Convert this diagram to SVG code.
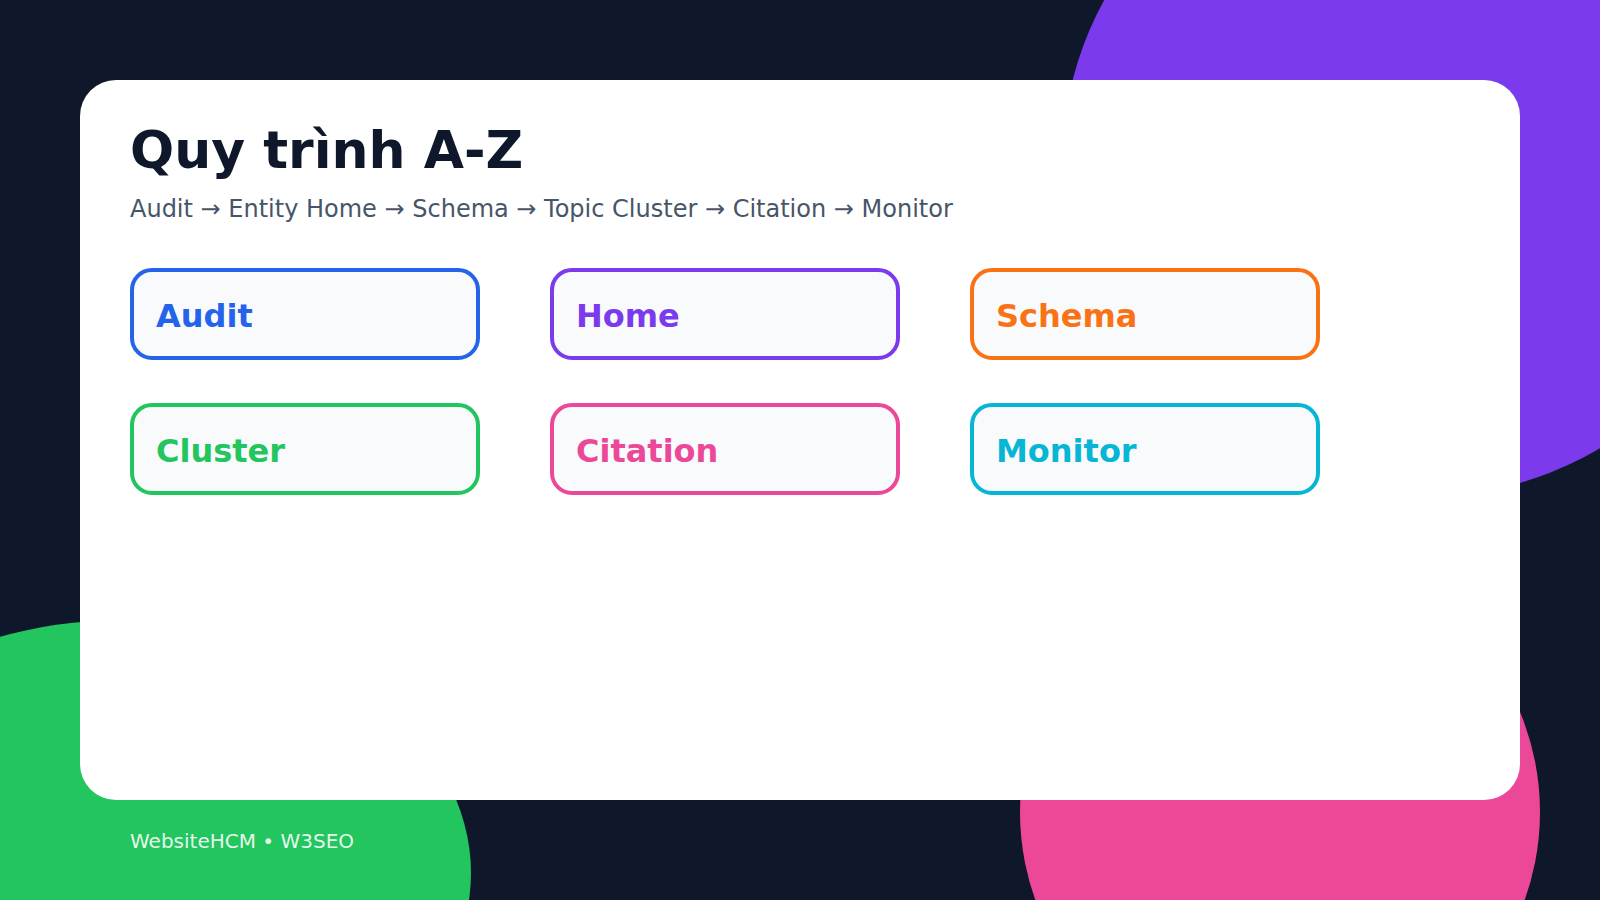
<svg xmlns="http://www.w3.org/2000/svg" width="1600" height="900" viewBox="0 0 1600 900">
  <style>
    text { font-family: "DejaVu Sans", "Liberation Sans", sans-serif; }
    .title { font-size: 52px; font-weight: 700; fill: #0f172a; }
    .sub { font-size: 24px; fill: #475569; }
    .box { fill: #f8fafc; stroke-width: 4; }
    .lbl { font-size: 32px; font-weight: 700; }
    .foot { font-size: 20px; fill: #ffffff; fill-opacity: 0.9; }
  </style>
  <rect x="0" y="0" width="1600" height="900" fill="#0f172a"/>
  <g id="background-shapes">
    <ellipse cx="1416" cy="159" rx="353" ry="339" fill="#7c3aed"/>
    <ellipse cx="124" cy="873" rx="347" ry="253" fill="#22c55e"/>
    <circle cx="1280" cy="812" r="260" fill="#ec4899"/>
  </g>
  <rect id="card" x="80" y="80" width="1440" height="720" rx="36" fill="#ffffff"/>
  <g id="header">
    <text class="title" x="130" y="168">Quy trình A-Z</text>
    <text class="sub" x="130" y="217">Audit → Entity Home → Schema → Topic Cluster → Citation → Monitor</text>
  </g>
  <g id="connectors"/>
  <g id="node-audit">
    <rect class="box" x="132" y="270" width="346" height="88" rx="20" stroke="#2563eb"/>
    <text class="lbl" x="156" y="327" fill="#2563eb">Audit</text>
  </g>
  <g id="node-home">
    <rect class="box" x="552" y="270" width="346" height="88" rx="20" stroke="#7c3aed"/>
    <text class="lbl" x="576" y="327" fill="#7c3aed">Home</text>
  </g>
  <g id="node-schema">
    <rect class="box" x="972" y="270" width="346" height="88" rx="20" stroke="#f97316"/>
    <text class="lbl" x="996" y="327" fill="#f97316">Schema</text>
  </g>
  <g id="node-cluster">
    <rect class="box" x="132" y="405" width="346" height="88" rx="20" stroke="#22c55e"/>
    <text class="lbl" x="156" y="462" fill="#22c55e">Cluster</text>
  </g>
  <g id="node-citation">
    <rect class="box" x="552" y="405" width="346" height="88" rx="20" stroke="#ec4899"/>
    <text class="lbl" x="576" y="462" fill="#ec4899">Citation</text>
  </g>
  <g id="node-monitor">
    <rect class="box" x="972" y="405" width="346" height="88" rx="20" stroke="#06b6d4"/>
    <text class="lbl" x="996" y="462" fill="#06b6d4">Monitor</text>
  </g>
  <g id="footer">
    <text class="foot" x="130" y="848">WebsiteHCM • W3SEO</text>
  </g>
</svg>
